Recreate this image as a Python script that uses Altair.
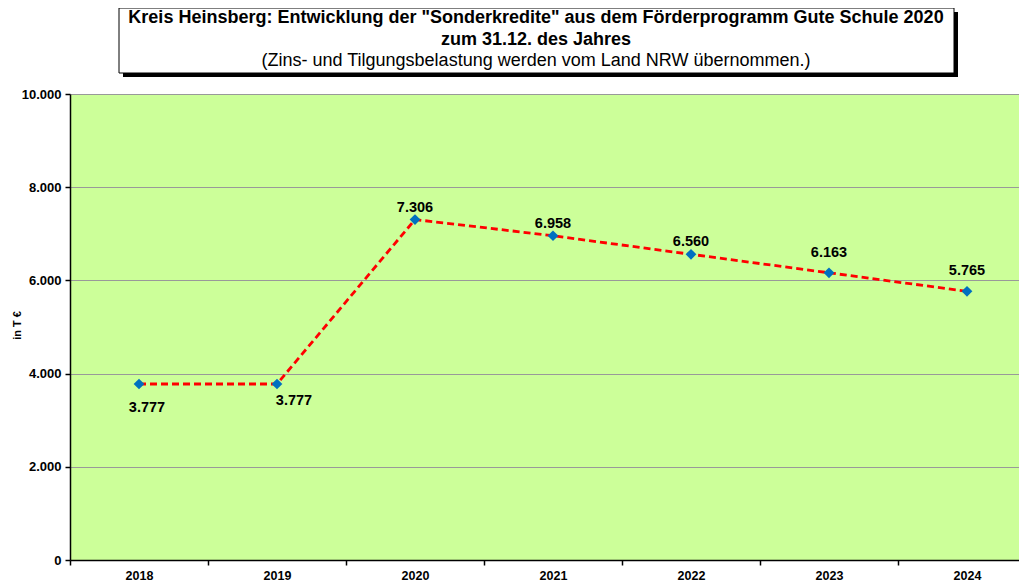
import altair as alt
import pandas as pd

years = ["2018", "2019", "2020", "2021", "2022", "2023", "2024"]
values = [3777, 3777, 7306, 6958, 6560, 6163, 5765]
y_ticks = [0, 2000, 4000, 6000, 8000, 10000]

title_lines = [
    'Kreis Heinsberg: Entwicklung der "Sonderkredite" aus dem Förderprogramm Gute Schule 2020',
    "zum 31.12. des Jahres",
    "(Zins- und Tilgungsbelastung werden vom Land NRW übernommen.)",
]
y_title = "in T €"

df = pd.DataFrame({"Jahr": years, "Wert": values})
one = pd.DataFrame({"a": [0]})

FONT = "Liberation Sans"

x_enc = alt.X(
    "Jahr:N",
    sort=years,
    scale=alt.Scale(range=[0, 966], paddingInner=0, paddingOuter=0),
    axis=alt.Axis(
        title=None,
        labelAngle=0,
        labelFont=FONT,
        labelFontSize=12.5,
        labelFontWeight="bold",
        labelColor="#000000",
        labelPadding=4,
        tickBand="extent",
        tickColor="#000000",
        tickSize=5,
        tickWidth=1.5,
        domainColor="#000000",
        domainWidth=1.5,
        grid=False,
    ),
)
y_enc = alt.Y(
    "Wert:Q",
    scale=alt.Scale(domain=[0, 10000], nice=False),
    axis=alt.Axis(
        values=y_ticks,
        title=y_title,
        titleFont=FONT,
        titleFontSize=11,
        titleFontWeight="bold",
        titleColor="#000000",
        titleX=-53,
        titleY=231,
        titleAngle=270,
        titleAlign="center",
        titleBaseline="middle",
        labelExpr="replace(format(datum.value, ','), ',', '.')",
        labelFont=FONT,
        labelFontSize=13,
        labelFontWeight="bold",
        labelColor="#000000",
        labelPadding=4,
        tickColor="#000000",
        tickSize=5,
        tickWidth=1.5,
        domainColor="#000000",
        domainWidth=1.5,
        grid=True,
        gridColor="#999999",
        gridWidth=1,
    ),
)

base = alt.Chart(df)

line = base.mark_line(color="#FF0000", strokeWidth=2.8, strokeDash=[7, 4]).encode(
    x=x_enc, y=y_enc
)
points = base.mark_point(
    shape="diamond", filled=True, color="#0070C0", size=115, opacity=1
).encode(x=x_enc, y=y_enc)

lab = base.transform_calculate(
    label="replace(format(datum.Wert, ','), ',', '.')"
)

def text_layer(sel, dx, dy):
    return (
        lab.transform_filter(alt.FieldOneOfPredicate(field="Jahr", oneOf=sel))
        .mark_text(
            font=FONT, fontSize=14.5, fontWeight="bold", color="#000000",
            dx=dx, dy=dy, baseline="middle", align="center",
        )
        .encode(x=x_enc, y=y_enc, text="label:N")
    )

t1 = text_layer(["2018"], 8, 24)
t2 = text_layer(["2019"], 17, 17)
t3 = text_layer(["2020", "2021", "2022"], 0, -12)
t4 = text_layer(["2023", "2024"], 0, -20)

shadow = alt.Chart(one).mark_rect(color="#000000").encode(
    x=alt.value(53), x2=alt.value(888), y=alt.value(-82), y2=alt.value(-17)
)
box = alt.Chart(one).mark_rect(fill="#FFFFFF", stroke="#000000", strokeWidth=1).encode(
    x=alt.value(49), x2=alt.value(884), y=alt.value(-86), y2=alt.value(-21)
)
tl1 = alt.Chart(one).mark_text(
    text=title_lines[0], font=FONT, fontSize=18, fontWeight="bold", color="#000000",
    align="center", baseline="middle",
).encode(x=alt.value(466), y=alt.value(-76))
tl2 = alt.Chart(one).mark_text(
    text=title_lines[1], font=FONT, fontSize=18, fontWeight="bold", color="#000000",
    align="center", baseline="middle",
).encode(x=alt.value(466), y=alt.value(-54))
tl3 = alt.Chart(one).mark_text(
    text=title_lines[2], font=FONT, fontSize=18, fontWeight="normal", color="#000000",
    align="center", baseline="middle",
).encode(x=alt.value(466), y=alt.value(-33))

chart = (
    alt.layer(line, points, t1, t2, t3, t4, shadow, box, tl1, tl2, tl3)
    .properties(
        width=949,
        height=466,
        autosize=alt.AutoSizeParams(type="none"),
        padding={"left": 62, "top": 86, "right": 0, "bottom": 24},
        background="#FFFFFF",
    )
    .configure_view(fill="#CCFF99", stroke="transparent")
)

chart.save("out.html", embed_options={"renderer": "svg", "actions": False})
